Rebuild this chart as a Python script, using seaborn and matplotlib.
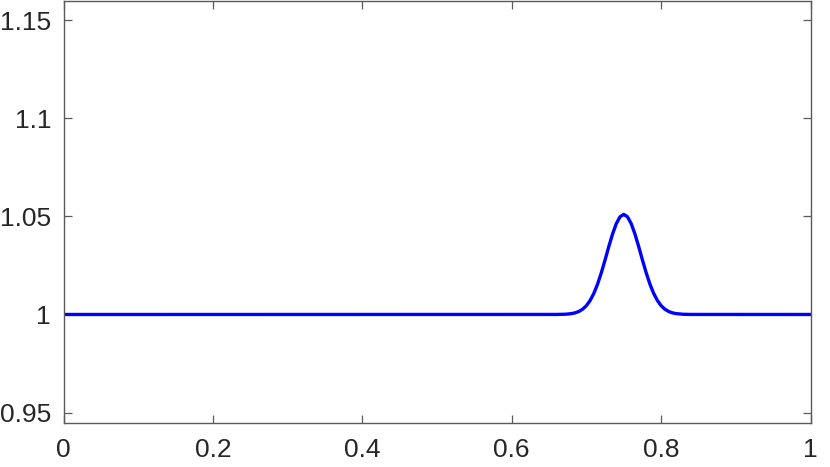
import matplotlib
matplotlib.use("Agg")
import matplotlib.pyplot as plt
import seaborn as sns
import pandas as pd

# values
x_vals = [0.0, 0.66, 0.67, 0.675, 0.68, 0.685, 0.69, 0.695, 0.70, 0.705, 0.71, 0.715,
          0.72, 0.725, 0.73, 0.735, 0.74, 0.745, 0.75, 0.755, 0.76, 0.765, 0.77,
          0.775, 0.78, 0.785, 0.79, 0.795, 0.80, 0.805, 0.81, 0.815, 0.82, 0.83,
          0.84, 1.0]
y_vals = [1.0, 1.00002, 1.0001, 1.00022, 1.00044, 1.00084, 1.00155, 1.0027, 1.0045,
          1.00714, 1.01079, 1.01552, 1.0213, 1.0278, 1.0346, 1.04099, 1.04628,
          1.04978, 1.051, 1.04978, 1.04628, 1.04099, 1.0346, 1.0278, 1.0213,
          1.01552, 1.01079, 1.00714, 1.0045, 1.0027, 1.00155, 1.00084, 1.00044,
          1.0001, 1.00002, 1.0]
x_ticks = [0, 0.2, 0.4, 0.6, 0.8, 1]
x_tick_labels = ["0", "0.2", "0.4", "0.6", "0.8", "1"]
y_ticks = [0.95, 1.0, 1.05, 1.1, 1.15]
y_tick_labels = ["0.95", "1", "1.05", "1.1", "1.15"]

sns.set_style("white")
plt.rcParams['font.family'] = ['Liberation Sans', 'DejaVu Sans']

df = pd.DataFrame({"x": x_vals, "y": y_vals})

fig = plt.figure(figsize=(8.30, 4.67), dpi=100)
ax = fig.add_axes([63.5 / 830, 44 / 467, 747 / 830, 422.5 / 467])
sns.lineplot(data=df, x="x", y="y", ax=ax, color="#0000ff", linewidth=2.4)

ax.set_xlim(0, 1)
ax.set_ylim(0.9447, 1.16)
ax.set_xticks(x_ticks)
ax.set_xticklabels(x_tick_labels)
ax.set_yticks(y_ticks)
ax.set_yticklabels(y_tick_labels)
ax.set_xlabel("")
ax.set_ylabel("")

for s in ax.spines.values():
    s.set_visible(True)
    s.set_color("#5a5a5a")
    s.set_linewidth(1.0)

ax.tick_params(axis="both", direction="in", length=6, width=0.9, color="#5a5a5a",
               labelsize=19, labelcolor="#262626", top=True, right=True,
               bottom=True, left=True)
ax.tick_params(axis="y", pad=9)
ax.tick_params(axis="x", pad=11)

fig.savefig("out.png", dpi=100)
